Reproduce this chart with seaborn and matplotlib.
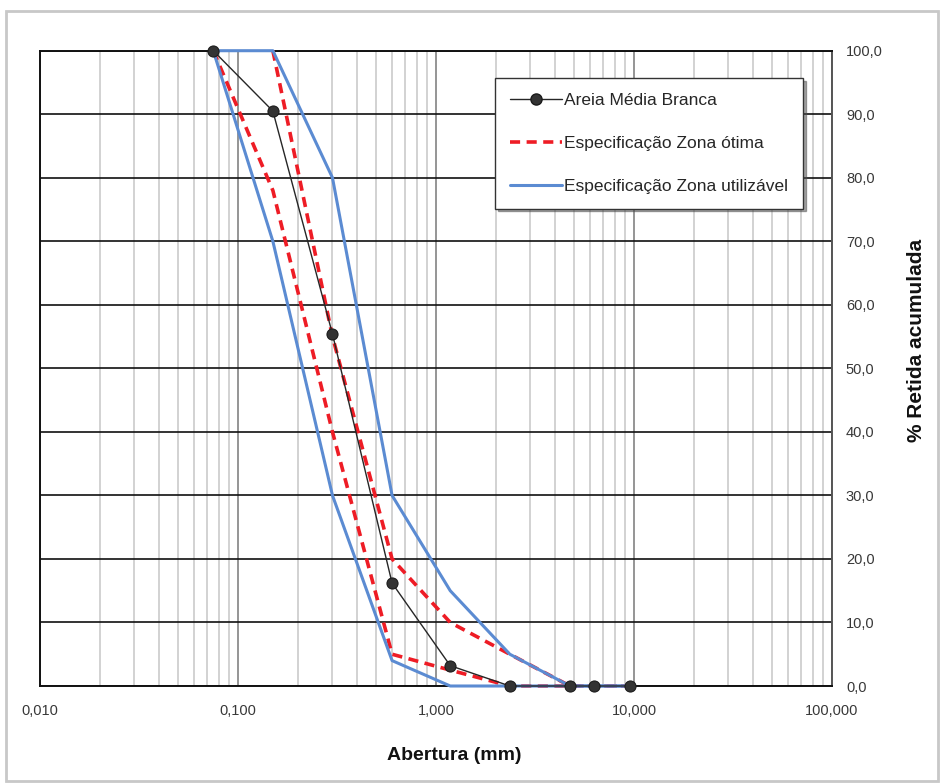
import numpy as np
import pandas as pd
import matplotlib
matplotlib.use("Agg")
import matplotlib.pyplot as plt
import matplotlib.ticker as mticker
from matplotlib.lines import Line2D
from matplotlib.patches import Rectangle
import seaborn as sns

# sieve openings (mm) and cumulative % retained
sieves = [0.075, 0.15, 0.3, 0.6, 1.18, 2.36, 4.75, 6.3, 9.5]
areia = [100, 90.5, 55.4, 16.2, 3.2, 0, 0, 0, 0]
otima_inf = [100, 78, 40, 5, 2.5, 0, 0, 0, 0]
otima_sup = [np.nan, 100, 55, 20, 10, 5, 0, 0, 0]
util_inf = [100, 70, 30, 4, 0, 0, 0, 0, 0]
util_sup = [100, 100, 80, 30, 15, 5, 0, 0, 0]

x_ticks = [0.01, 0.1, 1, 10, 100]
x_labels = ["0,010", "0,100", "1,000", "10,000", "100,000"]

df = pd.DataFrame({
    "abertura": sieves,
    "areia": areia,
    "otima_inf": otima_inf,
    "otima_sup": otima_sup,
    "util_inf": util_inf,
    "util_sup": util_sup,
})

sns.set_theme(style="white")
plt.rcParams["font.family"] = ["Liberation Sans Narrow", "Liberation Sans", "DejaVu Sans"]

BLUE = "#5B8BD2"
RED = "#EE1C25"
DARK = "#262626"
DASH = (0, (2.8, 1.8))

fig = plt.figure(figsize=(9.43, 7.84), dpi=100)
ax = fig.add_axes([40 / 943, 98 / 784, 792 / 943, 635.3 / 784])
ax.set_xscale("log")

# ótima zone (red dashed)
for col in ["otima_inf", "otima_sup"]:
    sns.lineplot(data=df.dropna(subset=[col]), x="abertura", y=col, ax=ax, color=RED,
                 linewidth=2.6, linestyle=DASH, estimator=None, sort=False,
                 zorder=3, clip_on=False)

# utilizável zone (blue)
for col in ["util_inf", "util_sup"]:
    sns.lineplot(data=df, x="abertura", y=col, ax=ax, color=BLUE, linewidth=2.2,
                 estimator=None, sort=False, zorder=4, clip_on=False)

# sample curve
sns.lineplot(data=df, x="abertura", y="areia", ax=ax, color=DARK, linewidth=1.0,
             marker="o", markersize=8, markeredgecolor="#1a1a1a", markerfacecolor="#333333",
             estimator=None, sort=False, zorder=6, clip_on=False)

ax.set_xlim(0.01, 100)
ax.set_ylim(0, 100)
ax.set_xlabel("")
ax.set_ylabel("")

ax.xaxis.set_major_locator(mticker.FixedLocator(x_ticks))
ax.xaxis.set_major_formatter(mticker.FixedFormatter(x_labels))
ax.xaxis.set_minor_locator(mticker.LogLocator(base=10, subs=np.arange(2, 10), numticks=20))
ax.xaxis.set_minor_formatter(mticker.NullFormatter())
ax.yaxis.set_major_locator(mticker.MultipleLocator(10))
ax.yaxis.set_major_formatter(mticker.FuncFormatter(lambda v, p: f"{v:.1f}".replace(".", ",")))
ax.yaxis.tick_right()

ax.tick_params(axis="x", which="both", length=0, pad=13, labelsize=10.5, labelcolor="#383838")
ax.tick_params(axis="y", which="both", length=0, pad=10, labelsize=10.5, labelcolor="#383838")

ax.grid(True, axis="y", which="major", color="#111111", linewidth=1.2)
ax.grid(True, axis="x", which="major", color="#8c8c8c", linewidth=1.3)
ax.grid(True, axis="x", which="minor", color="#d2d2d2", linewidth=1.4)
ax.set_axisbelow(True)
for side, sp in ax.spines.items():
    sp.set_visible(True)
    sp.set_color("#111111" if side != "right" else "#555555")
    sp.set_linewidth(1.4)

# legend: one entry per series type
handles = [
    Line2D([], [], color=DARK, linewidth=1.0, marker="o", markersize=8,
           markerfacecolor="#333333", markeredgecolor="#1a1a1a"),
    Line2D([], [], color=RED, linewidth=2.6, linestyle=DASH),
    Line2D([], [], color=BLUE, linewidth=2.2),
]
labels = ["Areia Média Branca", "Especificação Zona ótima", "Especificação Zona utilizável"]
leg = ax.legend(handles, labels, loc="upper left",
                bbox_to_anchor=((495 - 40) / 792, (686 - 78) / 635.3),
                borderaxespad=0, frameon=True, fancybox=False, shadow=True, framealpha=1,
                fontsize=12.5, handlelength=3.0, labelspacing=1.6, handletextpad=0.15,
                borderpad=0.85)
leg.get_frame().set_edgecolor("#333333")
leg.get_frame().set_linewidth(1.0)
leg.set_zorder(10)

fig.text(454 / 943, 1 - 756 / 784, "Abertura (mm)", ha="center", va="center",
         fontsize=14, fontweight="bold", color="#111111")
fig.text(916 / 943, 1 - 340 / 784, "% Retida acumulada", ha="center", va="center",
         rotation=90, fontsize=15, fontweight="bold", color="#111111",
         family=["Liberation Sans", "DejaVu Sans"])

# light grey outer frame
fig.patches.append(Rectangle((6 / 943, 3 / 784), 932 / 943, 770 / 784, transform=fig.transFigure,
                             fill=False, edgecolor="#c8c8c8", linewidth=2))

fig.savefig("out.png", dpi=100)
